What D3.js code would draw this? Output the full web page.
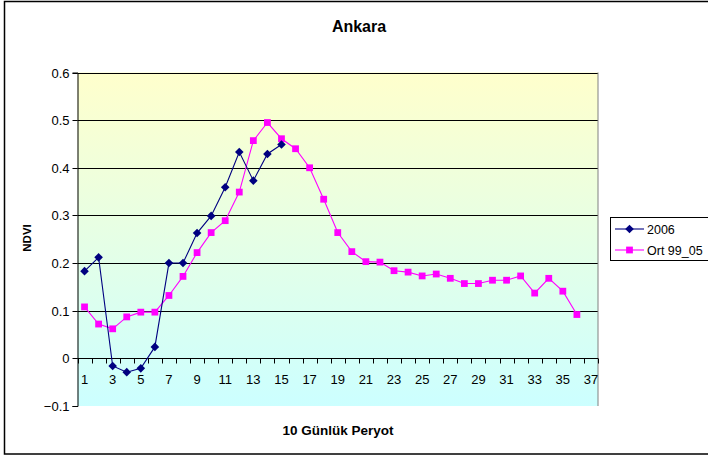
<!DOCTYPE html>
<html>
<head>
<meta charset="utf-8">
<script src="https://cdn.jsdelivr.net/npm/d3@7"></script>
<style>
  body { margin: 0; background: #fff; }
  text { font-family: "Liberation Sans", Arial, sans-serif; }
</style>
</head>
<body>
<div id="container"></div>
<script>
//svg size
const w = 708
const h = 457

// data
const periods = d3.range(1, 38)
const series2006 = [0.183, 0.212, -0.016, -0.029, -0.021, 0.024, 0.200, 0.200, 0.263, 0.299,
    0.359, 0.433, 0.373, 0.429, 0.449]
const seriesOrt = [0.108, 0.072, 0.062, 0.087, 0.097, 0.097, 0.132, 0.172, 0.222, 0.264,
    0.289, 0.349, 0.457, 0.495, 0.461, 0.440, 0.400, 0.334, 0.264, 0.224,
    0.203, 0.202, 0.184, 0.181, 0.173, 0.177, 0.168, 0.157, 0.157, 0.164,
    0.164, 0.173, 0.137, 0.168, 0.141, 0.092]
const yTicks = [-0.1, 0, 0.1, 0.2, 0.3, 0.4, 0.5, 0.6]
const seriesNames = ['2006', 'Ort 99_05']

const margin = {left: 77.5, right: 110, top: 72.5, bottom: 51}

const svg = d3.select('#container')
    .append('svg')
    .attr('width', w)
    .attr('height', h)

//outer border
svg.append('rect')
    .attr('x', 4.5).attr('y', 1.5)
    .attr('width', w + 10).attr('height', 452.5)
    .attr('fill', '#fff')
    .attr('stroke', '#000')
    .attr('stroke-width', 1.5)

const x = d3.scaleBand()
    .domain(periods)
    .range([margin.left, 598])

const y = d3.scaleLinear()
    .domain([-0.1, 0.6])
    .range([406, margin.top])

//background gradient
const defs = svg.append('defs')
const grad = defs.append('linearGradient')
    .attr('id', 'bg')
    .attr('x1', 0).attr('y1', 0).attr('x2', 0).attr('y2', 1)
grad.append('stop').attr('offset', '0%').attr('stop-color', '#ffffcc')
grad.append('stop').attr('offset', '100%').attr('stop-color', '#ccffff')

svg.append('rect')
    .attr('x', margin.left)
    .attr('y', y(0.6))
    .attr('width', 598 - margin.left)
    .attr('height', y(-0.1) - y(0.6))
    .attr('fill', 'url(#bg)')

//gridlines
svg.append('g')
    .selectAll('line')
    .data(yTicks.filter(d => d > -0.1))
    .enter()
    .append('line')
    .attr('x1', margin.left).attr('x2', 598)
    .attr('y1', d => Math.round(y(d)) + 0.5)
    .attr('y2', d => Math.round(y(d)) + 0.5)
    .attr('stroke', '#000')
    .attr('stroke-width', 1)

//right border of plot
svg.append('line')
    .attr('x1', 598).attr('x2', 598)
    .attr('y1', y(0.6)).attr('y2', y(-0.1))
    .attr('stroke', '#808080')

//y axis
const yAxis = d3.axisLeft(y)
    .tickValues(yTicks)
    .tickFormat(d => d3.format('')(+d.toFixed(1)))
    .tickSize(5)
    .tickPadding(3)
const gy = svg.append('g')
    .attr('transform', 'translate(' + margin.left + ',0)')
    .call(yAxis)
gy.select('.domain').attr('stroke', '#000')
gy.selectAll('.tick line').attr('stroke', '#000')
gy.selectAll('text')
    .attr('font-size', 13)
    .attr('fill', '#000')
    .style('font-family', '"Liberation Sans", Arial, sans-serif')
gy.selectAll('.tick').attr('transform', d => 'translate(0,' + (Math.round(y(d)) + 0.5) + ')')

//x axis at zero, ticks between categories
const zeroY = Math.round(y(0)) + 0.5
const gx = svg.append('g')
gx.append('line')
    .attr('x1', margin.left).attr('x2', 598)
    .attr('y1', zeroY).attr('y2', zeroY)
    .attr('stroke', '#000')
gx.selectAll('line.tk')
    .data(d3.range(0, periods.length + 1))
    .enter()
    .append('line')
    .attr('class', 'tk')
    .attr('x1', i => Math.round(margin.left + i * x.step()) + 0.5)
    .attr('x2', i => Math.round(margin.left + i * x.step()) + 0.5)
    .attr('y1', zeroY).attr('y2', zeroY + 5)
    .attr('stroke', '#000')
gx.selectAll('text')
    .data(periods.filter(d => d % 2 === 1))
    .enter()
    .append('text')
    .attr('x', d => x(d) + x.bandwidth() / 2)
    .attr('y', zeroY + 25)
    .attr('text-anchor', 'middle')
    .attr('font-size', 13)
    .text(d => d)

//lines
const line = d3.line()
    .x((d, i) => x(periods[i]) + x.bandwidth() / 2)
    .y(d => y(d))

svg.append('path')
    .datum(seriesOrt)
    .attr('fill', 'none')
    .attr('stroke', '#ff00ff')
    .attr('stroke-width', 1.1)
    .attr('d', line)

svg.append('path')
    .datum(series2006)
    .attr('fill', 'none')
    .attr('stroke', '#000080')
    .attr('stroke-width', 1.1)
    .attr('d', line)

//markers
const square = d3.symbol().type(d3.symbolSquare).size(46)
const diamond = 'M0,-4.3L4.3,0L0,4.3L-4.3,0Z'

svg.append('g')
    .selectAll('path')
    .data(seriesOrt)
    .enter()
    .append('path')
    .attr('transform', (d, i) => 'translate(' + (x(periods[i]) + x.bandwidth() / 2) + ',' + y(d) + ')')
    .attr('d', square)
    .attr('fill', '#ff00ff')

svg.append('g')
    .selectAll('path')
    .data(series2006)
    .enter()
    .append('path')
    .attr('transform', (d, i) => 'translate(' + (x(periods[i]) + x.bandwidth() / 2) + ',' + y(d) + ')')
    .attr('d', diamond)
    .attr('fill', '#000080')

//titles
svg.append('text')
    .attr('x', 359).attr('y', 32)
    .attr('text-anchor', 'middle')
    .attr('font-size', 16)
    .attr('font-weight', 'bold')
    .text('Ankara')

svg.append('text')
    .attr('x', 338).attr('y', 435)
    .attr('text-anchor', 'middle')
    .attr('font-size', 13.5)
    .attr('font-weight', 'bold')
    .text('10 Günlük Peryot')

svg.append('text')
    .attr('transform', 'translate(31,238) rotate(-90)')
    .attr('text-anchor', 'middle')
    .attr('font-size', 11.5)
    .attr('font-weight', 'bold')
    .text('NDVI')

//legend
const lg = svg.append('g')
lg.append('rect')
    .attr('x', 610.5).attr('y', 217.5)
    .attr('width', 110).attr('height', 43)
    .attr('fill', '#fff')
    .attr('stroke', '#000')
const colors = ['#000080', '#ff00ff']
const shapes = [diamond, square]
seriesNames.forEach((name, i) => {
    const ly = 229 + i * 21
    lg.append('line')
        .attr('x1', 615).attr('x2', 644)
        .attr('y1', ly).attr('y2', ly)
        .attr('stroke', colors[i])
        .attr('stroke-width', 1.1)
    lg.append('path')
        .attr('transform', 'translate(629.5,' + ly + ')')
        .attr('d', shapes[i])
        .attr('fill', colors[i])
    lg.append('text')
        .attr('x', 647).attr('y', ly + 4.5)
        .attr('font-size', 12.5)
        .text(name)
})
</script>
</body>
</html>
